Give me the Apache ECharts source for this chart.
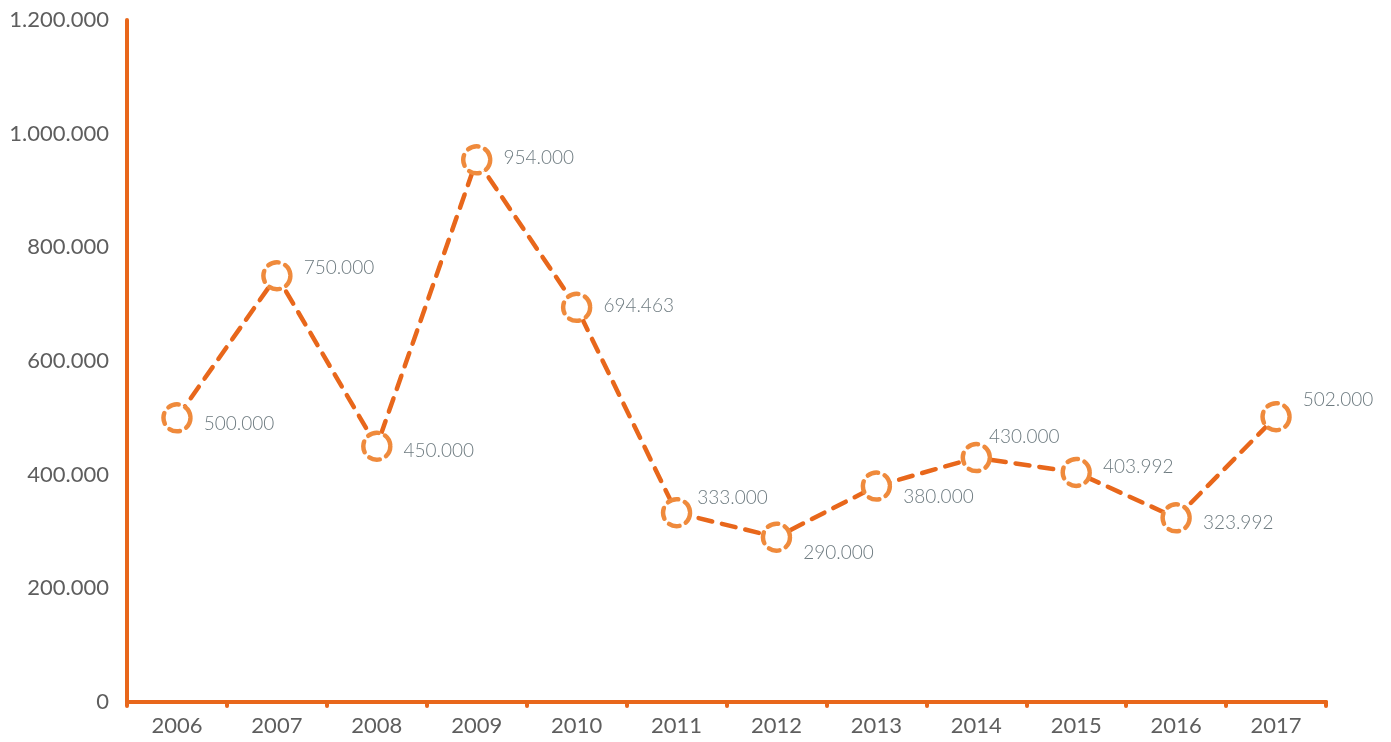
<!DOCTYPE html>
<html>
<head>
<meta charset="utf-8">
<script src="https://cdn.jsdelivr.net/npm/echarts@6/dist/echarts.min.js"></script>
<style>
  html, body { margin: 0; padding: 0; background: #fff; }
  #chart { width: 1391px; height: 742px; }
</style>
</head>
<body>
<div id="chart"></div>
<script>
// chart data
const years = ['2006', '2007', '2008', '2009', '2010', '2011', '2012', '2013', '2014', '2015', '2016', '2017']
const values = [500000, 750000, 450000, 954000, 694463, 333000, 290000, 380000, 430000, 403992, 323992, 502000]
// small nudges so labels sit where the original had them (dx, dy in px)
const labelNudge = [[0, 6], [0, -8], [0, 5], [0, -2], [0, -1], [-6, -15], [0, 16], [0, 11], [-14, -21], [0, -6], [0, 5], [0, -17]]

const lineColor = '#e8671b'
const markerColor = '#ef8a3c'

function fmt(v) {
  return String(Math.round(v)).replace(/\B(?=(\d{3})+(?!\d))/g, '.')
}

const chart = echarts.init(document.getElementById('chart'))

chart.setOption({
  animation: false,
  textStyle: { fontFamily: 'Lato' },
  grid: { left: 127, right: 65, top: 20, bottom: 40, containLabel: false },
  xAxis: {
    type: 'category',
    data: years,
    boundaryGap: true,
    axisLine: { lineStyle: { color: lineColor, width: 4, cap: 'round' } },
    axisTick: { show: true, length: 4, lineStyle: { color: lineColor, width: 4, cap: 'round' } },
    axisLabel: { color: '#5e5e5e', fontSize: 22, margin: 13 },
    splitLine: { show: false }
  },
  yAxis: {
    type: 'value',
    min: 0,
    max: 1200000,
    interval: 200000,
    axisLine: { show: true, lineStyle: { color: lineColor, width: 4, cap: 'round' } },
    axisTick: { show: false },
    axisLabel: { color: '#5e5e5e', fontSize: 22, margin: 18, formatter: fmt },
    splitLine: { show: false }
  },
  series: [{
    type: 'line',
    data: values.map((v, i) => ({
      value: v,
      label: { offset: labelNudge[i] }
    })),
    symbol: 'circle',
    symbolSize: 27,
    showAllSymbol: true,
    lineStyle: { color: lineColor, width: 4.5, type: [14, 10], cap: 'round' },
    itemStyle: {
      color: '#fff',
      borderColor: markerColor,
      borderWidth: 4.5,
      borderType: [11, 7],
      borderCap: 'round'
    },
    label: {
      show: true,
      position: 'right',
      distance: 11,
      color: '#6e7b80',
      fontSize: 19,
      fontWeight: 300,
      formatter: p => fmt(p.value)
    }
  }]
})
</script>
</body>
</html>
